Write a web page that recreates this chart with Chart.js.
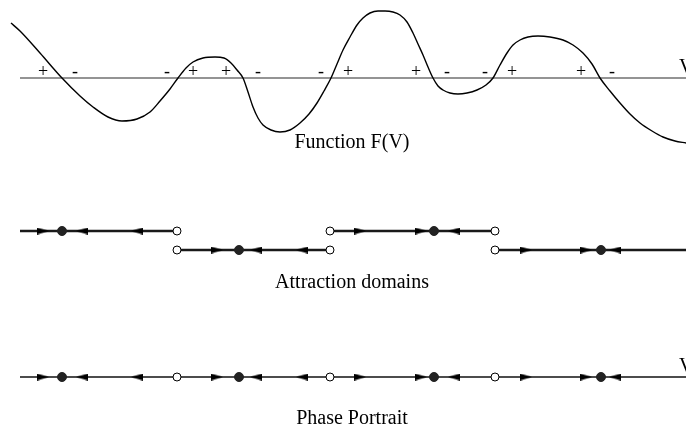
<!DOCTYPE html>
<html>
<head>
<meta charset="utf-8">
<title>Function F(V), attraction domains and phase portrait</title>
<script src="https://cdn.jsdelivr.net/npm/chart.js@4.4.0/dist/chart.umd.min.js"></script>
<style>
  html, body { margin: 0; padding: 0; background: #fff; }
  #wrap { width: 686px; height: 426px; }
</style>
</head>
<body>
<div id="wrap"><canvas id="diagram" width="686" height="426"></canvas></div>
<script>
// F(V) sampled along the drawn curve, F measured upward from the V axis
const curveV = [11, 20, 40, 62, 80, 93, 108, 122, 137, 150, 160, 170, 178, 186, 193, 203, 215, 224, 231, 237,
  243, 248, 253, 258, 263, 271, 280, 290, 300, 309, 317, 324, 331, 337, 343, 350, 357, 363, 370, 378,
  385, 393, 400, 407, 413, 418, 423, 428, 433, 438, 443, 450, 458, 467, 477, 486, 493, 500, 507, 513,
  520, 528, 538, 550, 563, 573, 583, 592, 600, 610, 620, 630, 640, 652, 663, 675, 686];
const curveF = [55, 47, 25, 0, -18, -29, -39, -43, -41, -34, -23, -11, 0, 10, 16, 20, 21, 20, 15, 8,
  0, -14, -29, -40, -47, -52, -54, -52, -45, -36, -25, -13, 0, 14, 28, 41, 53, 60, 65, 67,
  67, 66, 63, 56, 45, 34, 23, 11, 0, -8, -12, -15, -16, -15, -12, -7, 0, 13, 25, 33,
  38, 41, 42, 41, 38, 33, 25, 14, 0, -13, -25, -36, -45, -53, -59, -63, -65];

// sign of F on each side of the zeros
const signV = [43, 75, 167, 193, 226, 258, 321, 348, 416, 447, 485, 512, 581, 612];
const signs = ["+", "-", "-", "+", "+", "-", "-", "+", "+", "-", "-", "+", "+", "-"];

// equilibria
const stableV = [62, 239, 434, 601];
const unstableV = [177, 330, 495];

// flow arrows
const arrowRightV = [43, 217, 360, 421, 526, 586];
const arrowLeftV = [82, 137, 256, 302, 454, 615];

// attraction domains
const domainStart = [20, 177, 330, 495];
const domainEnd = [177, 330, 495, 686];

// layout (vertical rows, in canvas units)
const V_MIN = 0, V_MAX = 686, V_AXIS_START = 20;
const TOP_AXIS = 78, ROW_HI = 231, ROW_LO = 250, PHASE_AXIS = 377;
const domainRow = i => (i % 2 === 0 ? ROW_HI : ROW_LO);
const domainOf = v => domainStart.findIndex((s, i) => v >= s && v < domainEnd[i]);

const SERIF = '"Liberation Serif", "Times New Roman", Times, serif';

// arrow head image used as point style
const arrowHead = (() => {
  const c = document.createElement("canvas");
  c.width = 12;
  c.height = 7;
  const g = c.getContext("2d");
  g.fillStyle = "#000";
  g.beginPath();
  g.moveTo(0, 0);
  g.lineTo(12, 3.5);
  g.lineTo(0, 7);
  g.closePath();
  g.fill();
  return c;
})();

const markers = (vs, rowFor) => vs.map(v => ({ x: v, y: rowFor(v) }));

const filledDot = { pointStyle: "circle", pointRadius: 4.5, pointBackgroundColor: "#222", pointBorderColor: "#222", pointBorderWidth: 1 };
const openDot = { pointStyle: "circle", pointRadius: 4, pointBackgroundColor: "#fff", pointBorderColor: "#000", pointBorderWidth: 1 };
const arrowStyle = { pointStyle: arrowHead, pointRadius: 6 };

const datasets = [];

// top panel: F(V)
datasets.push({
  data: [{ x: V_AXIS_START, y: TOP_AXIS }, { x: V_MAX, y: TOP_AXIS }],
  showLine: true, borderColor: "#707070", borderWidth: 1.3, pointRadius: 0, order: 3,
});
datasets.push({
  data: curveV.map((v, i) => ({ x: v, y: TOP_AXIS - curveF[i] })),
  showLine: true, borderColor: "#000", borderWidth: 1.4, pointRadius: 0,
  cubicInterpolationMode: "monotone", order: 2,
});

// middle panel: attraction domains
domainStart.forEach((s, i) => {
  datasets.push({
    data: [{ x: s, y: domainRow(i) }, { x: domainEnd[i], y: domainRow(i) }],
    showLine: true, borderColor: "#1a1a1a", borderWidth: 2.4, pointRadius: 0, order: 3,
  });
});
const domainOpen = [];
domainStart.forEach((s, i) => {
  if (s > V_AXIS_START) domainOpen.push({ x: s, y: domainRow(i) });
  if (domainEnd[i] < V_MAX) domainOpen.push({ x: domainEnd[i], y: domainRow(i) });
});
const rowOfV = v => domainRow(domainOf(v));
datasets.push({ data: domainOpen, ...openDot, order: 1 });
datasets.push({ data: markers(stableV, rowOfV), ...filledDot, order: 1 });
datasets.push({ data: markers(arrowRightV, rowOfV), ...arrowStyle, pointRotation: 0, order: 1 });
datasets.push({ data: markers(arrowLeftV, rowOfV), ...arrowStyle, pointRotation: 180, order: 1 });

// bottom panel: phase portrait
datasets.push({
  data: [{ x: V_AXIS_START, y: PHASE_AXIS }, { x: V_MAX, y: PHASE_AXIS }],
  showLine: true, borderColor: "#111", borderWidth: 1.3, pointRadius: 0, order: 3,
});
const onPhase = () => PHASE_AXIS;
datasets.push({ data: markers(unstableV, onPhase), ...openDot, order: 1 });
datasets.push({ data: markers(stableV, onPhase), ...filledDot, order: 1 });
datasets.push({ data: markers(arrowRightV, onPhase), ...arrowStyle, pointRotation: 0, order: 1 });
datasets.push({ data: markers(arrowLeftV, onPhase), ...arrowStyle, pointRotation: 180, order: 1 });

datasets.forEach(d => { d.clip = false; d.pointHoverRadius = d.pointRadius; });

// texts: signs, V labels and panel captions
const textPlugin = {
  id: "diagramText",
  afterDatasetsDraw(chart) {
    const { ctx, scales: { x, y } } = chart;
    ctx.save();
    ctx.fillStyle = "#000";
    ctx.textBaseline = "alphabetic";

    ctx.font = "18px " + SERIF;
    ctx.textAlign = "center";
    signV.forEach((v, i) => {
      ctx.fillText(signs[i], x.getPixelForValue(v), y.getPixelForValue(TOP_AXIS - 1));
    });

    ctx.font = "20px " + SERIF;
    ctx.textAlign = "left";
    ctx.fillText("V", x.getPixelForValue(679), y.getPixelForValue(TOP_AXIS - 5));
    ctx.fillText("V", x.getPixelForValue(679), y.getPixelForValue(PHASE_AXIS - 5));

    ctx.textAlign = "center";
    ctx.textBaseline = "middle";
    const mid = x.getPixelForValue(352);
    ctx.fillText("Function F(V)", mid, y.getPixelForValue(143));
    ctx.fillText("Attraction domains", mid, y.getPixelForValue(283));
    ctx.fillText("Phase Portrait", mid, y.getPixelForValue(419));
    ctx.restore();
  },
};

new Chart(document.getElementById("diagram"), {
  type: "scatter",
  data: { datasets },
  options: {
    responsive: false,
    animation: false,
    events: [],
    layout: { padding: 0, autoPadding: false },
    plugins: { legend: { display: false }, tooltip: { enabled: false } },
    scales: {
      x: { type: "linear", min: V_MIN, max: V_MAX, display: false },
      y: { type: "linear", min: 0, max: 426, reverse: true, display: false },
    },
  },
  plugins: [textPlugin],
});
</script>
</body>
</html>
